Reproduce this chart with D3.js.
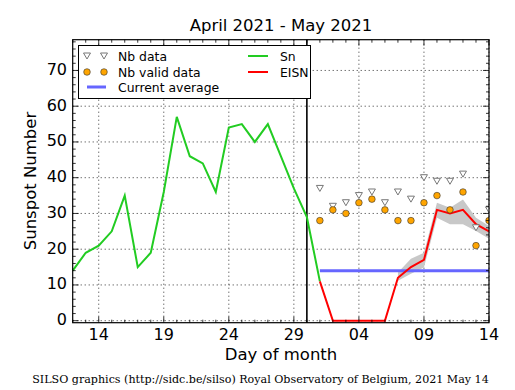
<!DOCTYPE html>
<html><head><meta charset="utf-8">
<script src="https://cdn.jsdelivr.net/npm/d3@7"></script>
<style>
body{margin:0;background:#fff;}
svg{display:block;font-family:"DejaVu Sans",sans-serif;}
</style></head><body>
<svg id="c" width="515" height="390"></svg>
<script>
// ---- data ----
const snDates = ["2021-04-12","2021-04-13","2021-04-14","2021-04-15","2021-04-16","2021-04-17","2021-04-18","2021-04-19","2021-04-20","2021-04-21","2021-04-22","2021-04-23","2021-04-24","2021-04-25","2021-04-26","2021-04-27","2021-04-28","2021-04-29","2021-04-30","2021-05-01"];
const snValues = [14,19,21,25,35,15,19,36,57,46,44,36,54,55,50,55,46,37,29,11];
const mayDates = ["2021-05-01","2021-05-02","2021-05-03","2021-05-04","2021-05-05","2021-05-06","2021-05-07","2021-05-08","2021-05-09","2021-05-10","2021-05-11","2021-05-12","2021-05-13","2021-05-14"];
const eisnValues = [11,0,0,0,0,0,12,15,17,31,30,31,27,25];
const bandDates = ["2021-05-07","2021-05-08","2021-05-09","2021-05-10","2021-05-11","2021-05-12","2021-05-13","2021-05-14"];
const bandLow = [11.2,13.1,14.9,28.8,27,27,25.1,22.9];
const bandHigh = [13.5,17.3,19,33,31.6,33.9,28.8,26.5];
const nbData = [37,32,33,35,36,33,36,34,40,39,39,41,26,31];
const nbValid = [28,31,30,33,34,31,28,28,33,35,31,36,21,28];
const currentAverage = 14;
const avgDates = ["2021-05-01","2021-05-14"];
const monthStart = "2021-04-30";
const xTickDates = ["2021-04-14","2021-04-19","2021-04-24","2021-04-29","2021-05-04","2021-05-09","2021-05-14"];
const yTicks = [0,10,20,30,40,50,60,70];

const P = d3.utcParse("%Y-%m-%d");
const svg = d3.select("#c");
const L = 72.7, R = 489, T = 39.7, B = 322.7;
const x = d3.scaleUtc().domain([P("2021-04-12"), P("2021-05-14")]).range([L, R]);
const y = d3.scaleLinear().domain([-0.56, 78.6]).range([B, T]);

svg.append("clipPath").attr("id", "clip").append("rect")
  .attr("x", L).attr("y", T).attr("width", R - L).attr("height", B - T);

// grid
const g = svg.append("g");
g.selectAll(".gx").data(xTickDates).join("line")
  .attr("x1", d => x(P(d))).attr("x2", d => x(P(d))).attr("y1", T).attr("y2", B)
  .attr("stroke", "#000").attr("stroke-width", 0.8).attr("stroke-dasharray", "1,3");
g.selectAll(".gy").data(yTicks).join("line")
  .attr("x1", L).attr("x2", R).attr("y1", d => y(d)).attr("y2", d => y(d))
  .attr("stroke", "#000").attr("stroke-width", 0.8).attr("stroke-dasharray", "1,3");

// band
const band = bandDates.map((d, i) => ({d: P(d), lo: bandLow[i], hi: bandHigh[i]}));
svg.append("path").datum(band)
  .attr("d", d3.area().x(d => x(d.d)).y0(d => y(d.lo)).y1(d => y(d.hi)))
  .attr("fill", "#c8c8c8");

// month start line
svg.append("line").attr("x1", x(P(monthStart))).attr("x2", x(P(monthStart)))
  .attr("y1", T).attr("y2", B).attr("stroke", "#000").attr("stroke-width", 1.6);

// average
svg.append("line").attr("x1", x(P(avgDates[0]))).attr("x2", x(P(avgDates[1])))
  .attr("y1", y(currentAverage)).attr("y2", y(currentAverage))
  .attr("stroke", "#6666ff").attr("stroke-width", 3);

const line = d3.line().x(d => x(d[0])).y(d => y(d[1]));
svg.append("path").datum(snDates.map((d, i) => [P(d), snValues[i]]))
  .attr("d", line).attr("fill", "none").attr("stroke", "#22cc22").attr("stroke-width", 2);
svg.append("path").datum(mayDates.map((d, i) => [P(d), eisnValues[i]]))
  .attr("d", line).attr("fill", "none").attr("stroke", "#ff0000").attr("stroke-width", 2);

// markers
const tri = "M-3.5,-3 L3.5,-3 L0,3 Z";
svg.append("g").attr("clip-path", "url(#clip)").selectAll("path").data(mayDates).join("path")
  .attr("transform", (d, i) => `translate(${x(P(d))},${y(nbData[i])})`)
  .attr("d", tri).attr("fill", "#fff").attr("stroke", "#777").attr("stroke-width", 1);
svg.append("g").attr("clip-path", "url(#clip)").selectAll("circle").data(mayDates).join("circle")
  .attr("cx", d => x(P(d))).attr("cy", (d, i) => y(nbValid[i])).attr("r", 3.3)
  .attr("fill", "#ffa500").attr("stroke", "#333").attr("stroke-width", 0.6);

// frame
svg.append("rect").attr("x", L).attr("y", T).attr("width", R - L).attr("height", B - T)
  .attr("fill", "none").attr("stroke", "#000").attr("stroke-width", 1.2);

// ticks
const days = d3.utcDay.range(P("2021-04-12"), d3.utcDay.offset(P("2021-05-14"), 1));
const tk = svg.append("g").attr("stroke", "#000").attr("stroke-width", 0.8);
days.forEach(d => {
  const major = xTickDates.some(s => +P(s) === +d);
  const len = major ? 6 : 3;
  tk.append("line").attr("x1", x(d)).attr("x2", x(d)).attr("y1", B).attr("y2", B - len);
  tk.append("line").attr("x1", x(d)).attr("x2", x(d)).attr("y1", T).attr("y2", T + len);
});
d3.range(0, 79, 2).forEach(v => {
  const major = v % 10 === 0;
  const len = major ? 6 : 3;
  tk.append("line").attr("x1", L).attr("x2", L + len).attr("y1", y(v)).attr("y2", y(v));
  tk.append("line").attr("x1", R).attr("x2", R - len).attr("y1", y(v)).attr("y2", y(v));
});

// tick labels
svg.append("g").selectAll("text").data(xTickDates).join("text")
  .attr("x", d => x(P(d))).attr("y", 340).attr("text-anchor", "middle")
  .attr("font-size", 16).text(d => d3.utcFormat("%d")(P(d)));
svg.append("g").selectAll("text").data(yTicks).join("text")
  .attr("x", 67).attr("y", d => y(d) + 4.5).attr("text-anchor", "end")
  .attr("font-size", 16).text(d => d);

// titles
svg.append("text").attr("x", 281).attr("y", 31).attr("text-anchor", "middle")
  .attr("font-size", 16.5).text("April 2021 - May 2021");
svg.append("text").attr("x", 281).attr("y", 360).attr("text-anchor", "middle")
  .attr("font-size", 16.5).text("Day of month");
svg.append("text").attr("transform", "translate(36,181) rotate(-90)").attr("text-anchor", "middle")
  .attr("font-size", 16.5).text("Sunspot Number");
svg.append("text").attr("x", 260.5).attr("y", 383).attr("text-anchor", "middle")
  .attr("font-family", "DejaVu Serif").attr("font-size", 11.1)
  .text("SILSO graphics (http://sidc.be/silso) Royal Observatory of Belgium, 2021 May 14");

// legend
const lg = svg.append("g");
lg.append("rect").attr("x", 78.5).attr("y", 45.5).attr("width", 232).attr("height", 53)
  .attr("fill", "#fff").attr("stroke", "#000").attr("stroke-width", 1);
[87, 104].forEach(cx => {
  lg.append("path").attr("transform", `translate(${cx},56)`).attr("d", tri)
    .attr("fill", "#fff").attr("stroke", "#777");
  lg.append("circle").attr("cx", cx).attr("cy", 72).attr("r", 3.3)
    .attr("fill", "#ffa500").attr("stroke", "#333").attr("stroke-width", 0.6);
});
lg.append("line").attr("x1", 87).attr("x2", 106).attr("y1", 87).attr("y2", 87)
  .attr("stroke", "#6666ff").attr("stroke-width", 3);
lg.append("line").attr("x1", 248).attr("x2", 268).attr("y1", 56).attr("y2", 56)
  .attr("stroke", "#22cc22").attr("stroke-width", 2);
lg.append("line").attr("x1", 248).attr("x2", 268).attr("y1", 72).attr("y2", 72)
  .attr("stroke", "#ff0000").attr("stroke-width", 2);
const lt = [["Nb data",118,61],["Nb valid data",118,77],["Current average",118,92],["Sn",280,61],["EISN",280,77]];
lg.selectAll("text.l").data(lt).join("text").attr("x", d => d[1]).attr("y", d => d[2])
  .attr("font-size", 12.4).text(d => d[0]);
</script>
</body></html>
